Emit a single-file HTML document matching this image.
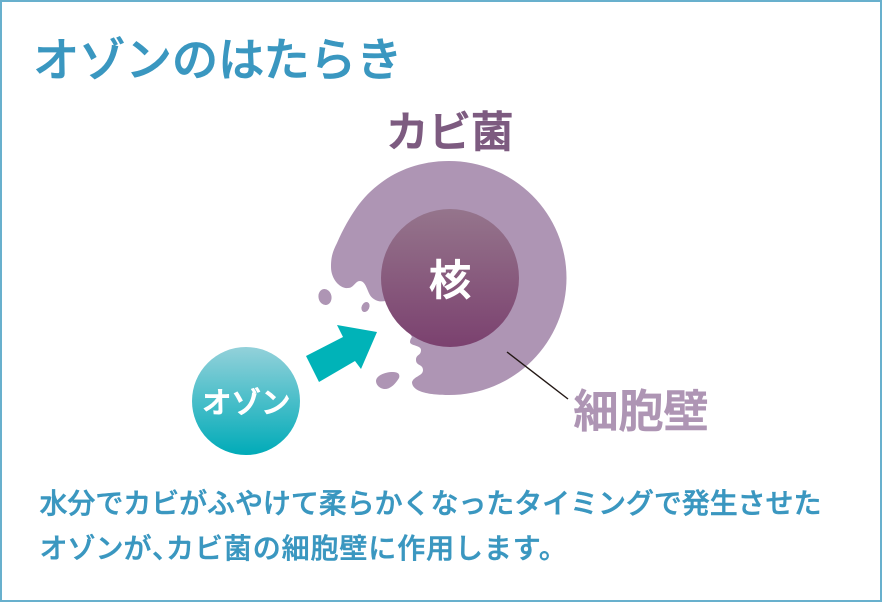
<!DOCTYPE html>
<html lang="ja"><head><meta charset="utf-8"><style>
html,body{margin:0;padding:0;background:#fff}
svg{display:block}
text{font-family:"Liberation Sans","Noto Sans CJK JP",sans-serif;font-weight:500}
</style></head><body>
<svg width="882" height="602" viewBox="0 0 882 602" xmlns="http://www.w3.org/2000/svg">
<defs>
<linearGradient id="n" x1="0" y1="0" x2="0" y2="1"><stop offset="0" stop-color="#95758c"/><stop offset="1" stop-color="#7b416f"/></linearGradient>
<linearGradient id="o" x1="0" y1="0" x2="0" y2="1"><stop offset="0" stop-color="#93d1da"/><stop offset="1" stop-color="#00abb8"/></linearGradient>
</defs>
<rect x="1" y="1" width="880" height="600" fill="#fff" stroke="#68b0cd" stroke-width="2"/>
<text x="33" y="76" font-size="46.300" fill="#3a97c0" stroke="#3a97c0" stroke-width=".7">オゾンのはたらき</text>
<text x="386" y="147" font-size="42.500" fill="#7d5b80" stroke="#7d5b80" stroke-width="1.100">カビ菌</text>
<path d="M449 161A117.500 117 0 1 1 449 395C437 395 412 394 412 382C414 376 423 376 423 370C423 364 416 366 416 360C416 354 421 356 421 350C421 345 410 346 410 342C410 339 412 337 412 337L390 300C386 301 382 302 378 301C372 299 370 296 368 291C366 286 364 281 360 281C355 281 354 288 348 288C340 289 331 279 331 267C331 256 333 251 337 243C343 229 350 217 357 207C372 186 402 161 449 161Z" fill="#ae95b4"/>
<circle cx="450" cy="278" r="69" fill="url(#n)"/>
<text x="429" y="295" font-size="42" fill="#fff" stroke="#fff" stroke-width="1.100">核</text>
<ellipse cx="325" cy="297" rx="6.500" ry="8" fill="#ae95b4" transform="rotate(-12 325 297)"/>
<ellipse cx="365.500" cy="307" rx="3.800" ry="5.200" fill="#ae95b4" transform="rotate(25 365.500 307)"/>
<path d="M376 381C376 376 384 372 393 372C399 372 400 375 399 378C396 383 391 389 385 389C380 389 376 385 376 381Z" fill="#ae95b4"/>
<path d="M306 356L343 337L337 325L377 332L361 369L355 361L319 382Z" fill="#00b3b8"/>
<line x1="507" y1="352" x2="568" y2="399" stroke="#231815" stroke-width="1.400"/>
<circle cx="246" cy="401" r="54" fill="url(#o)"/>
<text x="202" y="413" font-size="29.500" fill="#fff" stroke="#fff" stroke-width=".9">オゾン</text>
<text x="573.500" y="427" font-size="45" fill="#ae95b4" stroke="#ae95b4" stroke-width="1">細胞壁</text>
<text x="39.500" y="513" font-size="28" fill="#3a97c0" stroke="#3a97c0" stroke-width=".5" textLength="782" lengthAdjust="spacing">水分でカビがふやけて柔らかくなったタイミングで発生させた</text>
<text x="39.500" y="558" font-size="28" fill="#3a97c0" stroke="#3a97c0" stroke-width=".5">オゾンが</text>
<text x="152" y="558" font-size="28" fill="#3a97c0" stroke="#3a97c0" stroke-width=".5">、</text>
<text x="166" y="558" font-size="28" letter-spacing=".9" fill="#3a97c0" stroke="#3a97c0" stroke-width=".5">カビ菌の細胞壁に作用します。</text>
</svg>
</body></html>
